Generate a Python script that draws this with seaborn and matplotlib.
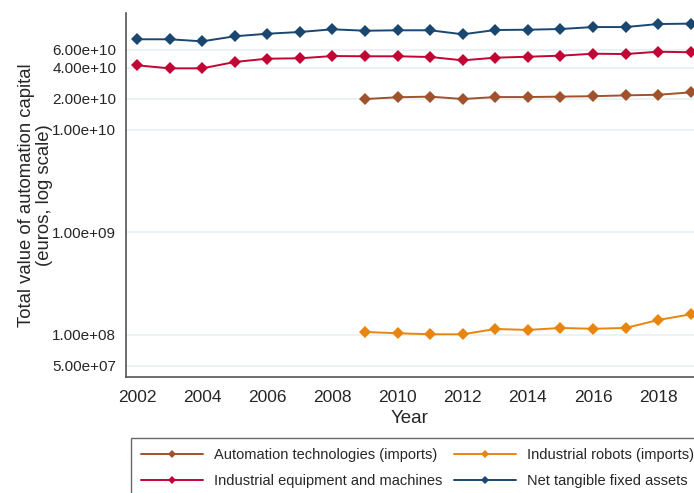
import matplotlib
matplotlib.use("Agg")
import matplotlib.pyplot as plt
import seaborn as sns
import pandas as pd
import numpy as np

years_all = list(range(2002, 2020))
years_late = list(range(2009, 2020))

net_tangible = [7.6e10, 7.6e10, 7.26e10, 8.13e10, 8.61e10, 8.95e10, 9.51e10,
                9.21e10, 9.30e10, 9.30e10, 8.5e10, 9.36e10, 9.42e10, 9.57e10,
                1.0e11, 1.0e11, 1.07e11, 1.08e11]
industrial_equipment = [4.24e10, 3.96e10, 3.96e10, 4.57e10, 4.92e10, 4.96e10, 5.22e10,
                        5.19e10, 5.19e10, 5.11e10, 4.74e10, 5.03e10, 5.14e10, 5.26e10,
                        5.5e10, 5.46e10, 5.75e10, 5.68e10]
automation_tech = [1.99e10, 2.07e10, 2.10e10, 1.99e10, 2.08e10, 2.08e10, 2.10e10,
                   2.12e10, 2.16e10, 2.19e10, 2.31e10]
industrial_robots = [1.07e8, 1.04e8, 1.016e8, 1.016e8, 1.144e8, 1.12e8, 1.17e8,
                     1.15e8, 1.17e8, 1.40e8, 1.59e8]

series_names = ["Automation technologies (imports)", "Industrial equipment and machines",
                "Industrial robots (imports)", "Net tangible fixed assets"]
colors = ["#a0522d", "#c10534", "#e8850c", "#1a476f"]

ytick_vals = [5e7, 1e8, 1e9, 1e10, 2e10, 4e10, 6e10]
ytick_labels = ["5.00e+07", "1.00e+08", "1.00e+09", "1.00e+10", "2.00e+10", "4.00e+10", "6.00e+10"]
xtick_vals = list(range(2002, 2020, 2))

df = pd.concat([
    pd.DataFrame({"Year": years_late, "value": automation_tech, "series": series_names[0]}),
    pd.DataFrame({"Year": years_all, "value": industrial_equipment, "series": series_names[1]}),
    pd.DataFrame({"Year": years_late, "value": industrial_robots, "series": series_names[2]}),
    pd.DataFrame({"Year": years_all, "value": net_tangible, "series": series_names[3]}),
])

sns.set_style("white")
plt.rcParams["font.family"] = ["Liberation Sans", "DejaVu Sans"]

fig = plt.figure(figsize=(6.94, 4.93), dpi=100)
ax = fig.add_axes([126/694, 1-377.3/493, 1-126/694, (377.3-12.7)/493])

sns.lineplot(data=df, x="Year", y="value", hue="series", hue_order=series_names,
             palette=colors, style="series", markers={n: "D" for n in series_names},
             dashes=False, markersize=6, markeredgewidth=0, linewidth=1.4, ax=ax,
             legend=True)

ax.set_yscale("log")
ax.set_ylim(3.87e7, 1.38e11)
ax.set_xlim(2001.66, 2019.1)
ax.set_yticks(ytick_vals)
ax.set_yticklabels(ytick_labels)
ax.yaxis.set_minor_locator(matplotlib.ticker.NullLocator())
ax.set_xticks(xtick_vals)
ax.set_xticklabels([str(v) for v in xtick_vals])
ax.grid(axis="y", color="#e8f0f3", linewidth=1.2)
ax.set_axisbelow(True)
for s in ["top", "right"]:
    ax.spines[s].set_visible(False)
for s in ["left", "bottom"]:
    ax.spines[s].set_color("#555555")
    ax.spines[s].set_linewidth(1.2)
ax.tick_params(axis="y", direction="out", length=5, width=1, color="#555555", labelsize=11, pad=2)
ax.tick_params(axis="x", direction="out", length=5, width=1, color="#555555", labelsize=12.5, pad=4)
ax.set_xlabel("Year", fontsize=13.5, labelpad=4)
ax.set_ylabel("Total value of automation capital\n(euros, log scale)", fontsize=13.3,
              linespacing=1.1)
ax.yaxis.set_label_coords((53 - 126) / (694 - 126), 0.5)

handles, labels = ax.get_legend_handles_labels()
ax.get_legend().remove()
leg = fig.legend(handles, labels, loc="upper left", bbox_to_anchor=(130.5/694, 1-437.5/493),
                 ncol=2, fontsize=10.5, frameon=True, fancybox=False, edgecolor="#444444",
                 handlelength=4.2, handletextpad=0.75, columnspacing=0.85,
                 borderpad=0.75, labelspacing=0.78, markerscale=0.75, borderaxespad=0)
leg.get_frame().set_linewidth(1.0)

fig.savefig("out.png", dpi=100)
